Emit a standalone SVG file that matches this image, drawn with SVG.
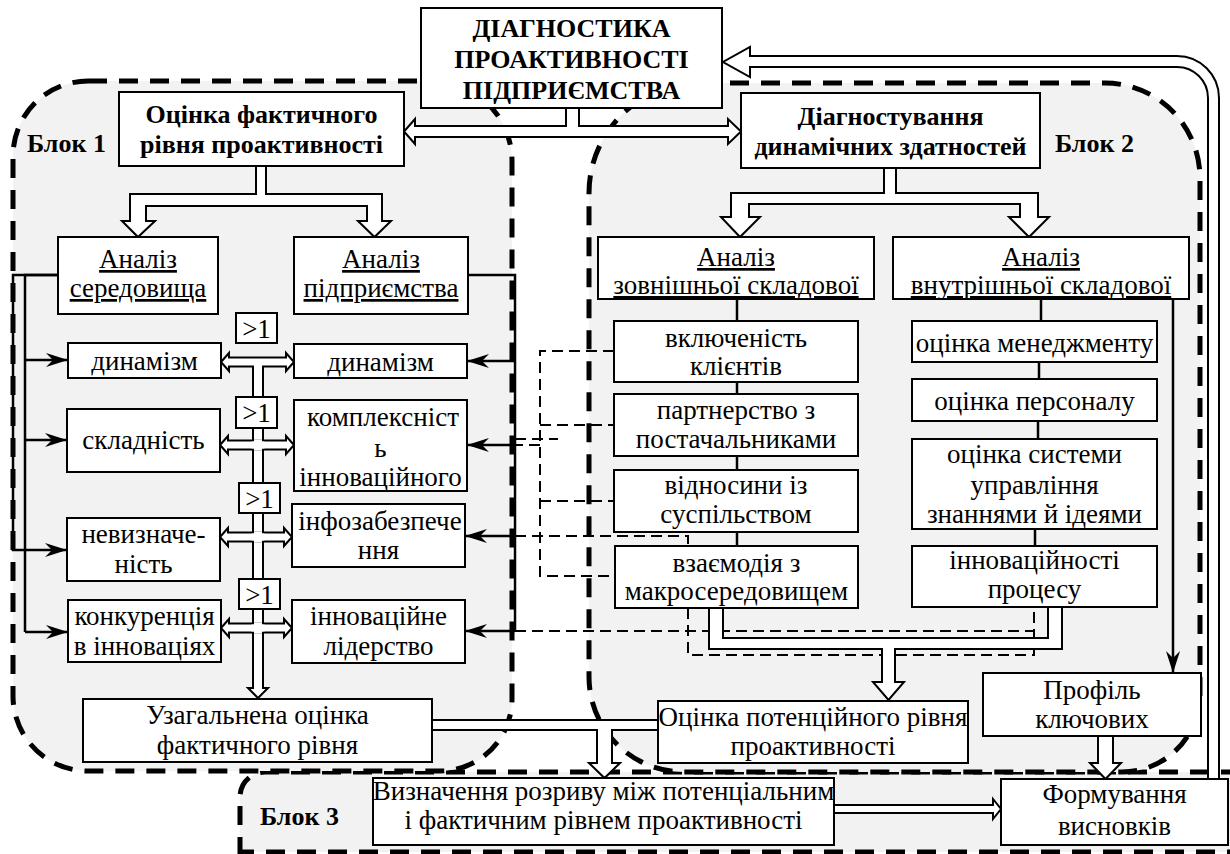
<svg xmlns="http://www.w3.org/2000/svg" width="1230" height="854" viewBox="0 0 1230 854" font-family="'Liberation Serif', 'Times New Roman', serif">
<defs>
<marker id="ah" viewBox="-23 -8 24 16" refX="0" refY="0" markerWidth="24" markerHeight="16" markerUnits="userSpaceOnUse" orient="auto">
<path d="M0,0 L-22,-7 L-15,0 L-22,7 Z" fill="#000"/>
</marker>
</defs>
<style>
.blk{fill:#f2f2f2;stroke:#000;stroke-width:5;stroke-dasharray:19 12}
.box{fill:#fff;stroke:#000;stroke-width:2}
.ln{fill:none;stroke:#000;stroke-width:2.5}
.arr{fill:none;stroke:#000;stroke-width:2.5;marker-end:url(#ah)}
.dsh{fill:none;stroke:#000;stroke-width:2;stroke-dasharray:11 6}
.hol{fill:#fff;stroke:#000;stroke-width:2}
.er{fill:#fff;stroke:none}
text{font-family:'Liberation Serif','Times New Roman',serif;font-size:27px;fill:#000;text-anchor:middle}
.b{font-weight:bold;font-size:26px}
.u{text-decoration:underline}
.st{text-anchor:start}
</style>
<rect x="0" y="0" width="1230" height="854" fill="#fff"/>

<g id="block3">
<path class="blk" d="M240,856 V797 A25,25 0 0 1 265,772 H1240 V852 H240"/>
<text class="b st" x="260" y="825">Блок 3</text>
</g>
<g id="block1">
<path class="blk" d="M88,81 H432 A80,80 0 0 1 512,161 V698 A72,72 0 0 1 440,771 H88 A75,75 0 0 1 13,696 V156 A75,75 0 0 1 88,81 Z"/>
<text class="b st" x="27" y="152">Блок 1</text>
</g>
<g id="block2">
<path class="blk" d="M699,83 H1105 A95,95 0 0 1 1200,178 V694 A78,78 0 0 1 1122,772 H684 A95,95 0 0 1 589,677 V193 A110,110 0 0 1 699,83 Z"/>
<text class="b st" x="1055" y="152">Блок 2</text>
</g>

<g id="connectors">
<path class="dsh" d="M614,351 H540 V576 H615 M540,425 H614 M540,501 H614 M540,445 H515 M515,439 H558 M515,536 H688 V546 M688,608 V655 H1034 V607 M515,631 H1034"/>
<polyline class="arr" points="58,275 13,275 13,550 67,550"/>
<polyline class="ln" points="58,275 25,275 25,632"/>
<line class="arr" x1="25" y1="360" x2="68" y2="360"/>
<line class="arr" x1="25" y1="440" x2="67" y2="440"/>
<line class="arr" x1="25" y1="632" x2="68" y2="632"/>
<polyline class="ln" points="468,275 515,275 515,631"/>
<line class="arr" x1="515" y1="361" x2="467" y2="361"/>
<line class="arr" x1="515" y1="445" x2="467" y2="445"/>
<line class="arr" x1="515" y1="536" x2="465" y2="536"/>
<line class="arr" x1="515" y1="631" x2="465" y2="631"/>
<path class="ln" d="M737,299 V321 M737,382 V394 M737,456 V470 M737,532 V546 M1041,299 V321 M1039,362 V379 M1038,421 V439 M1035,529 V546"/>
<line class="arr" x1="1173" y1="299" x2="1173" y2="673"/>

<path class="hol" d="M566,108 V126 H415 V119 L404,131.5 L415,144 V137 H728 V144 L741,131.5 L728,119 V126 H579 V108"/>
<path class="hol" d="M256,166 V194 H130 V221 H122 L138,237 L155,221 H146 V206 H367 V221 H358 L374.5,237 L391,221 H382 V194 H266 V166"/>
<path class="hol" d="M884,168 V193 H731 V217 H721 L740,237 L760,217 H749 V204 H1020 V217 H1009 L1029,237 L1049,217 H1038 V193 H896 V168"/>

<path class="hol" d="M253,362 V688 H248 L258,698 L268,688 H263 V362 Z"/>
<path class="hol" d="M221,362 L229,353 V357.5 H286 V353 L294,362 L286,371 V366.5 H229 V371 Z"/>
<path class="hol" d="M220,445 L228,436 V440.5 H286 V436 L294,445 L286,454 V449.5 H228 V454 Z"/>
<path class="hol" d="M220,537 L228,528 V532.5 H284 V528 L292,537 L284,546 V541.5 H228 V546 Z"/>
<path class="hol" d="M221,628 L229,619 V623.5 H284 V619 L292,628 L284,637 V632.5 H229 V637 Z"/>
<rect class="er" x="254" y="365" width="8" height="3"/>
<rect class="er" x="254" y="439.4" width="8" height="11.2"/>
<rect class="er" x="251.5" y="441.5" width="13" height="7"/>
<rect class="er" x="254" y="531.4" width="8" height="11.2"/>
<rect class="er" x="251.5" y="533.5" width="13" height="7"/>
<rect class="er" x="254" y="622.4" width="8" height="11.2"/>
<rect class="er" x="251.5" y="624.5" width="13" height="7"/>

<path class="hol" d="M709,608 V649 H882 V682 H873 L888.5,700 L904,682 H895 V649 H1062 V607 H1048 V638 H723 V608"/>
<path class="hol" d="M432,720 H658 V730 H612 V763 H620 L604.5,778 L589,763 H597 V730 H432"/>
<path class="hol" d="M834,805 H993 V799 L1001,809 L993,819 V813 H834"/>
<path class="hol" d="M1098,736 V763 H1090 L1105.5,779 L1121,763 H1113 V736"/>
<path class="hol" d="M1219,779 V98 A42,42 0 0 0 1177,56 H750 V47 L723,62 L750,77 V67 H1177 A31,31 0 0 1 1208,98 V779"/>
</g>

<g id="n-title"><rect class="box" x="421" y="8" width="301" height="100"/>
<text class="b" x="571.5" y="37">ДІАГНОСТИКА</text><text class="b" x="571.5" y="68">ПРОАКТИВНОСТІ</text><text class="b" x="571.5" y="99">ПІДПРИЄМСТВА</text></g>
<g id="n-b1-main"><rect class="box" x="119" y="92" width="285" height="74"/>
<text class="b" x="261.5" y="123">Оцінка фактичного</text><text class="b" x="261.5" y="153">рівня проактивності</text></g>
<g id="n-b2-main"><rect class="box" x="741" y="93" width="299" height="75"/>
<text class="b" x="890.5" y="125">Діагностування</text><text class="b" x="890.5" y="155">динамічних здатностей</text></g>

<g id="n-an-ser"><rect class="box" x="58" y="237" width="160" height="77"/>
<text class="u" x="138" y="268">Аналіз</text><text class="u" x="138" y="297">середовища</text></g>
<g id="n-an-pid"><rect class="box" x="294" y="237" width="174" height="77"/>
<text class="u" x="381" y="268">Аналіз</text><text class="u" x="381" y="297">підприємства</text></g>
<g id="n-an-zov"><rect class="box" x="598" y="237" width="276" height="62"/>
<text class="u" x="736" y="266">Аналіз</text><text class="u" x="736" y="294">зовнішньої складової</text></g>
<g id="n-an-vnu"><rect class="box" x="893" y="237" width="296" height="62"/>
<text class="u" x="1041" y="266">Аналіз</text><text class="u" x="1041" y="294">внутрішньої складової</text></g>

<g id="n-l-dyn"><rect class="box" x="68" y="343" width="153" height="35"/><text x="144.5" y="370">динамізм</text></g>
<g id="n-l-skl"><rect class="box" x="67" y="409" width="153" height="63"/><text x="143.5" y="449">складність</text></g>
<g id="n-l-nev"><rect class="box" x="67" y="518" width="153" height="63"/><text x="143.5" y="543">невизначе-</text><text x="143.5" y="573">ність</text></g>
<g id="n-l-kon"><rect class="box" x="68" y="600" width="153" height="62"/><text x="144.5" y="625">конкуренція</text><text x="144.5" y="655">в інноваціях</text></g>

<g id="n-r-dyn"><rect class="box" x="294" y="344" width="173" height="34"/><text x="380.5" y="371">динамізм</text></g>
<g id="n-r-kom"><rect class="box" x="294" y="400" width="173" height="91"/><text x="383" y="426">комплексніст</text><text x="380.5" y="457">ь</text><text x="380.5" y="486">інноваційного</text></g>
<g id="n-r-inf"><rect class="box" x="292" y="504" width="173" height="63"/><text x="380" y="530">інфозабезпече</text><text x="378.5" y="559">ння</text></g>
<g id="n-r-lid"><rect class="box" x="292" y="600" width="173" height="63"/><text x="378.5" y="625">інноваційне</text><text x="378.5" y="655">лідерство</text></g>

<g id="n-gt1"><rect class="box" x="236" y="313" width="41" height="30"/><text x="256.5" y="338">&gt;1</text></g>
<g id="n-gt2"><rect class="box" x="236" y="397" width="41" height="31"/><text x="256.5" y="422">&gt;1</text></g>
<g id="n-gt3"><rect class="box" x="239" y="483" width="41" height="30"/><text x="259.5" y="508">&gt;1</text></g>
<g id="n-gt4"><rect class="box" x="239" y="579" width="41" height="30"/><text x="259.5" y="604">&gt;1</text></g>

<g id="n-uzag"><rect class="box" x="83" y="699" width="349" height="63"/><text x="257.5" y="724">Узагальнена оцінка</text><text x="257.5" y="754">фактичного рівня</text></g>

<g id="n-e1"><rect class="box" x="614" y="321" width="244" height="61"/><text x="736" y="347">включеність</text><text x="736" y="375">клієнтів</text></g>
<g id="n-e2"><rect class="box" x="614" y="394" width="244" height="62"/><text x="736" y="419">партнерство з</text><text x="736" y="448">постачальниками</text></g>
<g id="n-e3"><rect class="box" x="614" y="470" width="244" height="62"/><text x="736" y="494">відносини із</text><text x="736" y="523">суспільством</text></g>
<g id="n-e4"><rect class="box" x="615" y="546" width="243" height="62"/><text x="736.5" y="572">взаємодія з</text><text x="736.5" y="600">макросередовищем</text></g>

<g id="n-i1"><rect class="box" x="912" y="321" width="245" height="41"/><text x="1034.5" y="352">оцінка менеджменту</text></g>
<g id="n-i2"><rect class="box" x="912" y="379" width="245" height="42"/><text x="1034.5" y="410">оцінка персоналу</text></g>
<g id="n-i3"><rect class="box" x="912" y="439" width="245" height="90"/><text x="1034.5" y="463">оцінка системи</text><text x="1034.5" y="494">управління</text><text x="1034.5" y="523">знаннями й ідеями</text></g>
<g id="n-i4"><rect class="box" x="912" y="546" width="245" height="61"/><text x="1034.5" y="569">інноваційності</text><text x="1034.5" y="598">процесу</text></g>

<g id="n-potenc"><rect class="box" x="658" y="701" width="310" height="62"/><text x="813" y="726">Оцінка потенційного рівня</text><text x="813" y="755">проактивності</text></g>
<g id="n-prof"><rect class="box" x="983" y="673" width="218" height="63"/><text x="1092" y="699">Профіль</text><text x="1092" y="728">ключових</text></g>
<g id="n-vyzn"><rect class="box" x="373" y="778" width="461" height="67"/><text x="603.5" y="800">Визначення розриву між потенціальним</text><text x="603.5" y="829">і фактичним рівнем проактивності</text></g>
<g id="n-form"><rect class="box" x="1001" y="779" width="227" height="66"/><text x="1114.5" y="803">Формування</text><text x="1114.5" y="835">висновків</text></g>
</svg>
